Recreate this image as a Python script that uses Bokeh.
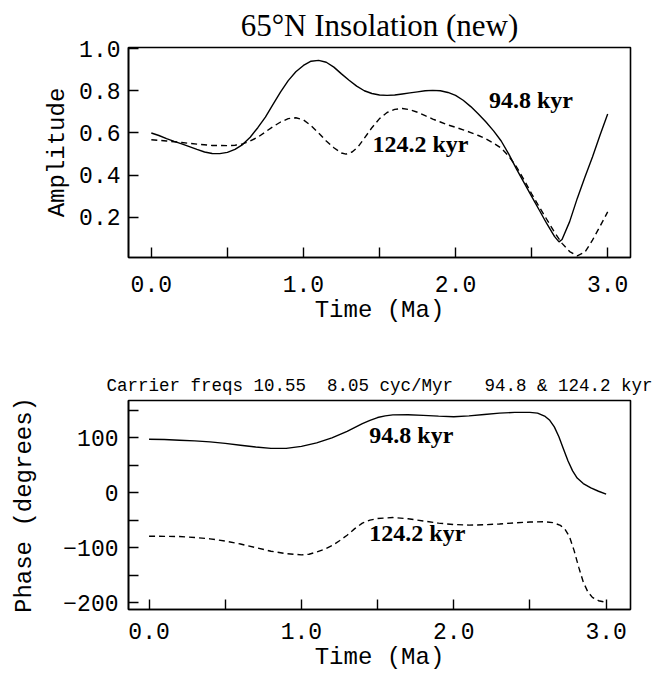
from bokeh.plotting import figure
from bokeh.models import FixedTicker, Label, Title
from bokeh.layouts import column
from bokeh.embed import file_html
from bokeh.resources import INLINE

# ---------------- data ----------------
# Top panel: amplitude envelopes
amp_t_948 = [0.00, 0.05, 0.10, 0.15, 0.20, 0.25, 0.30, 0.35, 0.40, 0.45, 0.50, 0.55, 0.60, 0.65,
             0.70, 0.75, 0.80, 0.85, 0.90, 0.95, 1.00, 1.05, 1.10, 1.15, 1.20, 1.25, 1.30, 1.35,
             1.40, 1.45, 1.50, 1.55, 1.60, 1.65, 1.70, 1.75, 1.80, 1.85, 1.90, 1.95, 2.00, 2.05,
             2.10, 2.15, 2.20, 2.25, 2.30, 2.35, 2.40, 2.45, 2.50, 2.55, 2.60, 2.65, 2.68, 2.70,
             2.75, 2.80, 2.85, 2.90, 2.95, 3.00]
amp_948 = [0.600, 0.588, 0.573, 0.560, 0.548, 0.535, 0.522, 0.510, 0.503, 0.502, 0.508, 0.522, 0.545, 0.580,
           0.625, 0.675, 0.735, 0.795, 0.848, 0.890, 0.920, 0.940, 0.944, 0.935, 0.912, 0.880, 0.850, 0.822,
           0.800, 0.787, 0.780, 0.778, 0.780, 0.785, 0.790, 0.795, 0.800, 0.802, 0.800, 0.792, 0.778, 0.755,
           0.725, 0.690, 0.652, 0.610, 0.562, 0.500, 0.430, 0.365, 0.300, 0.235, 0.170, 0.110, 0.084, 0.095,
           0.180, 0.290, 0.390, 0.486, 0.590, 0.690]

amp_t_1242 = [0.00, 0.10, 0.20, 0.30, 0.40, 0.50, 0.55, 0.60, 0.65, 0.70, 0.75, 0.80, 0.85, 0.90,
              0.95, 1.00, 1.05, 1.10, 1.15, 1.20, 1.25, 1.28, 1.32, 1.36, 1.40, 1.45, 1.50, 1.55,
              1.60, 1.65, 1.70, 1.75, 1.80, 1.85, 1.90, 1.95, 2.00, 2.05, 2.10, 2.15, 2.20, 2.25,
              2.30, 2.35, 2.40, 2.45, 2.50, 2.55, 2.60, 2.65, 2.70, 2.75, 2.80, 2.85, 2.90, 2.95, 3.00]
amp_1242 = [0.568, 0.562, 0.555, 0.547, 0.541, 0.540, 0.542, 0.548, 0.562, 0.580, 0.605, 0.630, 0.652, 0.668,
            0.672, 0.662, 0.635, 0.600, 0.562, 0.530, 0.505, 0.500, 0.510, 0.535, 0.575, 0.625, 0.668, 0.697,
            0.712, 0.716, 0.710, 0.698, 0.682, 0.666, 0.652, 0.638, 0.627, 0.615, 0.602, 0.588, 0.572, 0.552,
            0.528, 0.490, 0.440, 0.378, 0.312, 0.250, 0.190, 0.130, 0.077, 0.038, 0.018, 0.035, 0.092, 0.158, 0.226]

# Bottom panel: phase (degrees)
ph_t_948 = [0.0, 0.1, 0.2, 0.3, 0.4, 0.5, 0.6, 0.7, 0.8, 0.9, 1.0, 1.1, 1.2, 1.3, 1.4, 1.45,
            1.5, 1.55, 1.6, 1.7, 1.8, 1.9, 2.0, 2.1, 2.2, 2.3, 2.4, 2.5, 2.55, 2.6, 2.63, 2.66,
            2.69, 2.72, 2.75, 2.78, 2.81, 2.85, 2.9, 2.95, 3.0]
ph_948 = [97.6, 97.0, 95.8, 94.5, 92.7, 90.0, 86.7, 83.5, 81.0, 81.0, 84.5, 91.0, 100.0, 112.0, 126.0, 132.0,
          137.0, 140.0, 141.8, 142.0, 141.0, 139.5, 138.5, 140.0, 142.5, 145.0, 146.5, 146.5, 145.0, 139.0, 132.0, 120.0,
          102.0, 80.0, 58.0, 40.0, 27.0, 17.0, 9.0, 3.0, -2.4]

ph_t_1242 = [0.0, 0.1, 0.2, 0.3, 0.4, 0.5, 0.6, 0.7, 0.8, 0.9, 1.0, 1.05, 1.1, 1.15, 1.2, 1.25,
             1.3, 1.35, 1.4, 1.45, 1.5, 1.6, 1.7, 1.8, 1.9, 2.0, 2.1, 2.2, 2.3, 2.4, 2.5, 2.6,
             2.65, 2.7, 2.73, 2.76, 2.79, 2.82, 2.85, 2.88, 2.91, 2.95, 3.0]
ph_1242 = [-78.8, -79.0, -79.4, -81.0, -83.5, -87.5, -93.0, -99.5, -106.0, -110.5, -112.7, -111.5, -107.5, -102.5, -96.0, -87.0,
           -77.0, -65.0, -55.0, -49.5, -46.5, -44.8, -47.0, -51.0, -55.0, -57.5, -58.5, -58.0, -56.5, -54.5, -53.0, -52.5,
           -54.0, -59.0, -66.0, -80.0, -105.0, -135.0, -162.0, -180.0, -190.0, -196.0, -199.0]

x_major = [0, 1, 2, 3]
x_minor = [0.5, 1.5, 2.5]
x_labels = {0: "0.0", 1: "1.0", 2: "2.0", 3: "3.0"}
amp_ticks = [0.2, 0.4, 0.6, 0.8, 1.0]
amp_labels = {0.2: "0.2", 0.4: "0.4", 0.6: "0.6", 0.8: "0.8", 1.0: "1.0"}
ph_major = [-200, -100, 0, 100]
ph_minor = [-150, -50, 50, 150]
ph_labels = {-200: "\u2212200", -100: "\u2212100", 0: "0", 100: "100"}

NB = "\u00a0"
title_text = "65\u00b0N Insolation (new)"
subtitle_text = ("Carrier freqs 10.55" + NB * 2 + "8.05 cyc/Myr" + NB * 3 + "94.8 & 124.2 kyr")
xlabel_text = "Time (Ma)"
amp_label_text = "Amplitude"
ph_label_text = "Phase (degrees)"
lab_948 = "94.8 kyr"
lab_1242 = "124.2 kyr"

MONO = "Liberation Mono"
SERIF = "Liberation Serif"


def style(p, xlabel, ylabel, yticks, yminor, ylabels, xstand, ystand, ylab_stand, xlab_stand):
    p.outline_line_color = "black"
    p.outline_line_width = 1.6
    p.grid.visible = False
    p.background_fill_color = "white"
    p.border_fill_color = "white"
    for ax in (p.xaxis[0], p.yaxis[0]):
        ax.axis_line_color = "black"
        ax.axis_line_width = 1.6
        ax.major_tick_in = 10
        ax.major_tick_out = 0
        ax.minor_tick_in = 10
        ax.minor_tick_out = 0
        ax.major_tick_line_width = 1.4
        ax.minor_tick_line_width = 1.4
        ax.major_tick_line_color = "black"
        ax.minor_tick_line_color = "black"
        ax.major_label_text_font = MONO
        ax.major_label_text_font_size = "23px"
        ax.major_label_text_color = "black"
        ax.axis_label_text_font = MONO
        ax.axis_label_text_font_size = "24px"
        ax.axis_label_text_font_style = "normal"
        ax.axis_label_text_color = "black"
    p.xaxis[0].ticker = FixedTicker(ticks=x_major, minor_ticks=x_minor)
    p.xaxis[0].major_label_overrides = x_labels
    p.xaxis[0].major_label_standoff = xstand
    p.xaxis[0].axis_label = xlabel
    p.xaxis[0].axis_label_standoff = xlab_stand
    p.yaxis[0].ticker = FixedTicker(ticks=yticks, minor_ticks=yminor)
    p.yaxis[0].major_label_overrides = ylabels
    p.yaxis[0].major_label_standoff = ystand
    p.yaxis[0].axis_label = ylabel
    p.yaxis[0].axis_label_standoff = ylab_stand


# ---------------- top panel ----------------
p1 = figure(width=658, height=338, x_range=(-0.15, 3.15), y_range=(0.01, 1.005),
            output_backend="svg", toolbar_location=None,
            min_border_left=128, min_border_right=26, min_border_top=47, min_border_bottom=81)
p1.title = Title(text=title_text, align="center", text_font=SERIF, text_font_size="31px",
                 text_font_style="normal", text_color="black", standoff=10)
style(p1, xlabel_text, amp_label_text, amp_ticks, [], amp_labels, 18, 8, 5, 2)
p1.line(amp_t_948, amp_948, line_color="black", line_width=1.4)
p1.line(amp_t_1242, amp_1242, line_color="black", line_width=1.4, line_dash="6 4")
p1.add_layout(Label(x=2.22, y=0.697, text=lab_948, text_font=SERIF, text_font_size="24px",
                    text_font_style="bold", text_color="black"))
p1.add_layout(Label(x=1.454, y=0.485, text=lab_1242, text_font=SERIF, text_font_size="24px",
                    text_font_style="bold", text_color="black"))

# ---------------- bottom panel ----------------
p2 = figure(width=658, height=343, x_range=(-0.135, 3.16), y_range=(-212, 168),
            output_backend="svg", toolbar_location=None,
            min_border_left=126, min_border_right=28, min_border_top=62, min_border_bottom=72)
p2.title = Title(text=subtitle_text, align="center", text_font=MONO, text_font_size="17.5px",
                 text_font_style="normal", text_color="black", standoff=10)
style(p2, xlabel_text, ph_label_text, ph_major, ph_minor, ph_labels, 13, 10, 22, 2)
p2.line(ph_t_948, ph_948, line_color="black", line_width=1.4)
p2.line(ph_t_1242, ph_1242, line_color="black", line_width=1.4, line_dash="6 4")
p2.add_layout(Label(x=1.446, y=82, text=lab_948, text_font=SERIF, text_font_size="24px",
                    text_font_style="bold", text_color="black"))
p2.add_layout(Label(x=1.446, y=-96, text=lab_1242, text_font=SERIF, text_font_size="24px",
                    text_font_style="bold", text_color="black"))

layout = column(p1, p2, spacing=0)
open("out.html", "w").write(file_html(layout, INLINE))
